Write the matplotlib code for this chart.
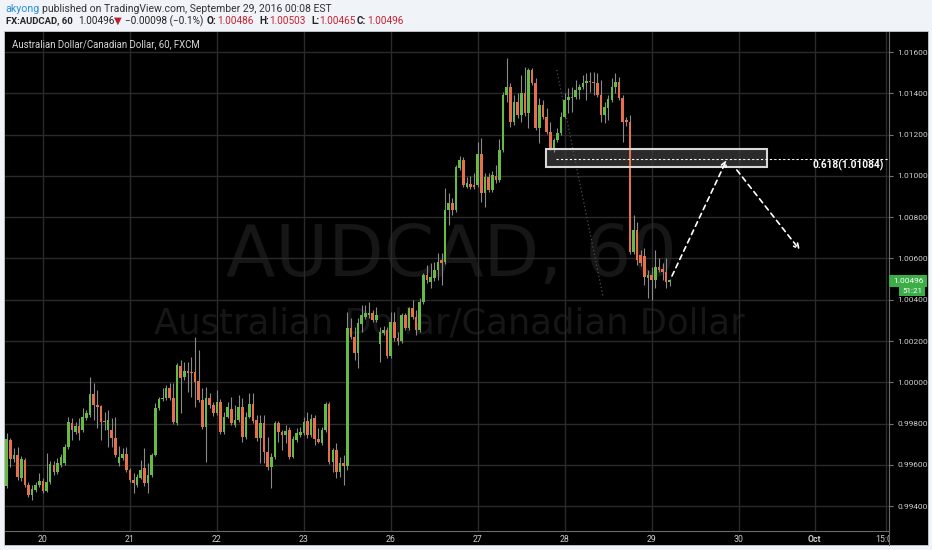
import numpy as np
import matplotlib
matplotlib.use("Agg")
import matplotlib.pyplot as plt
from matplotlib.patches import Rectangle

plt.rcParams['font.family'] = ['Roboto', 'DejaVu Sans']

# AUDCAD hourly candles, prices in units of 0.00001
opens = [
    99497, 99720, 99628, 99648, 99536, 99624, 99502, 99454, 99478, 99502,
    99522, 99473, 99517, 99600, 99565, 99600, 99609, 99686, 99802, 99759,
    99788, 99768, 99827, 99841, 99944, 99890, 99885, 99812, 99768, 99768,
    99730, 99609, 99633, 99653, 99575, 99527, 99502, 99536, 99585, 99512,
    99551, 99648, 99875, 99919, 99924, 99973, 99924, 99802, 100079, 100026,
    100055, 100050, 100050, 100007, 99914, 99783, 99924, 99890, 99851, 99904,
    99759, 99831, 99870, 99793, 99817, 99880, 99735, 99831, 99895, 99817,
    99730, 99802, 99662, 99590, 99638, 99802, 99759, 99744, 99768, 99638,
    99720, 99744, 99754, 99812, 99744, 99827, 99725, 99705, 99768, 99895,
    99614, 99672, 99565, 99609, 99595, 100263, 100220, 100142, 100283, 100317,
    100326, 100336, 100302, 100186, 100239, 100253, 100128, 100292, 100215, 100200,
    100326, 100263, 100360, 100317, 100253, 100389, 100521, 100487, 100506, 100545,
    100593, 100584, 100836, 100869, 100836, 101040, 101079, 100947, 100962, 100957,
    100957, 101108, 100918, 100996, 100933, 101001, 100981, 101127, 101393, 101432,
    101262, 101359, 101296, 101403, 101306, 101515, 101451, 101233, 101345, 101287,
    101214, 101127, 101175, 101209, 101287, 101369, 101379, 101384, 101418, 101432,
    101451, 101461, 101456, 101451, 101393, 101296, 101330, 101369, 101432, 101456,
    101379, 101272, 101262, 100632, 100739, 100618, 100613, 100506, 100521, 100496,
    100560, 100550, 100535, 100486]
highs = [
    99754, 99730, 99681, 99686, 99643, 99633, 99517, 99502, 99517, 99561,
    99536, 99657, 99619, 99619, 99633, 99653, 99701, 99831, 99827, 99807,
    99827, 99875, 99866, 100026, 99997, 99963, 99890, 99856, 99866, 99827,
    99831, 99691, 99681, 99686, 99585, 99561, 99556, 99624, 99681, 99609,
    99657, 99899, 99929, 99973, 99987, 99997, 99997, 100094, 100109, 100099,
    100099, 100123, 100220, 100157, 99973, 99978, 99949, 99904, 99963, 99919,
    99856, 99904, 99929, 99890, 99939, 99924, 99856, 99949, 99949, 99841,
    99841, 99841, 99735, 99657, 99812, 99812, 99768, 99793, 99783, 99740,
    99778, 99783, 99831, 99856, 99846, 99841, 99778, 99783, 99904, 99904,
    99681, 99705, 99638, 99648, 100341, 100312, 100268, 100312, 100375, 100375,
    100389, 100350, 100365, 100268, 100273, 100268, 100341, 100341, 100244, 100336,
    100336, 100365, 100399, 100350, 100409, 100530, 100569, 100579, 100584, 100627,
    100627, 100943, 100918, 100894, 101054, 101098, 101093, 100996, 101001, 101016,
    101165, 101185, 101016, 101016, 101025, 101054, 101180, 101408, 101573, 101451,
    101393, 101403, 101490, 101529, 101524, 101524, 101476, 101379, 101369, 101330,
    101262, 101185, 101233, 101311, 101403, 101427, 101432, 101466, 101446, 101490,
    101500, 101505, 101505, 101500, 101466, 101359, 101393, 101476, 101500, 101481,
    101393, 101287, 101296, 100812, 100777, 100642, 100651, 100545, 100560, 100642,
    100603, 100579, 100603, 100503]
lows = [
    99488, 99590, 99614, 99527, 99522, 99493, 99444, 99430, 99468, 99493,
    99464, 99468, 99507, 99551, 99556, 99590, 99600, 99677, 99720, 99749,
    99720, 99759, 99817, 99831, 99817, 99778, 99720, 99768, 99686, 99686,
    99638, 99595, 99624, 99565, 99517, 99464, 99493, 99531, 99497, 99464,
    99541, 99643, 99866, 99909, 99914, 99914, 99797, 99793, 99851, 100012,
    99953, 99929, 99880, 99904, 99773, 99614, 99875, 99836, 99841, 99749,
    99749, 99827, 99793, 99783, 99807, 99710, 99725, 99827, 99802, 99715,
    99609, 99609, 99575, 99488, 99628, 99710, 99672, 99705, 99628, 99633,
    99710, 99735, 99744, 99730, 99735, 99696, 99705, 99696, 99759, 99604,
    99565, 99536, 99541, 99502, 99575, 100210, 100109, 100070, 100244, 100307,
    100312, 100292, 100292, 100099, 100229, 100118, 100118, 100200, 100181, 100190,
    100253, 100253, 100307, 100229, 100244, 100380, 100482, 100458, 100492, 100496,
    100472, 100574, 100763, 100812, 100826, 101030, 100947, 100943, 100938, 100938,
    100947, 100874, 100850, 100923, 100923, 100967, 100972, 101117, 101359, 101238,
    101248, 101282, 101262, 101291, 101233, 101442, 101223, 101160, 101277, 101204,
    101127, 101117, 101165, 101199, 101282, 101306, 101311, 101374, 101374, 101422,
    101369, 101408, 101393, 101384, 101262, 101257, 101272, 101359, 101403, 101369,
    101165, 101243, 100623, 100623, 100569, 100564, 100472, 100409, 100399, 100458,
    100535, 100496, 100458, 100465]
closes = [
    99725, 99628, 99648, 99541, 99628, 99502, 99454, 99483, 99502, 99522,
    99473, 99517, 99604, 99565, 99609, 99638, 99686, 99807, 99768, 99788,
    99754, 99831, 99851, 99944, 99890, 99880, 99807, 99807, 99817, 99730,
    99648, 99638, 99653, 99575, 99527, 99512, 99541, 99575, 99512, 99551,
    99648, 99875, 99919, 99924, 99973, 99924, 99807, 100084, 100021, 100055,
    100045, 100045, 100002, 99914, 99783, 99924, 99890, 99851, 99904, 99759,
    99831, 99880, 99802, 99817, 99880, 99735, 99831, 99895, 99812, 99730,
    99802, 99662, 99590, 99638, 99802, 99759, 99744, 99764, 99638, 99725,
    99754, 99759, 99807, 99744, 99822, 99725, 99710, 99768, 99895, 99614,
    99672, 99565, 99609, 99595, 100263, 100220, 100142, 100287, 100326, 100336,
    100336, 100302, 100326, 100244, 100253, 100128, 100292, 100215, 100200, 100326,
    100263, 100360, 100317, 100253, 100389, 100521, 100496, 100511, 100545, 100584,
    100579, 100836, 100869, 100836, 101045, 101079, 100957, 100967, 100947, 100947,
    101108, 100918, 100996, 100933, 101006, 100981, 101127, 101393, 101432, 101262,
    101359, 101296, 101403, 101306, 101515, 101451, 101233, 101345, 101287, 101214,
    101137, 101175, 101209, 101287, 101369, 101384, 101384, 101418, 101432, 101451,
    101461, 101456, 101451, 101393, 101296, 101335, 101374, 101432, 101456, 101379,
    101262, 101262, 100632, 100739, 100593, 100579, 100511, 100521, 100496, 100560,
    100545, 100535, 100487, 100496]

day_pos = [10, 34, 58, 82, 106, 130, 154, 178, 202, 223, 242.6]
day_labels = ['20', '21', '22', '23', '26', '27', '28', '29', '30', 'Oct', '15:00']
price_ticks = [0.994, 0.996, 0.998, 1.000, 1.002, 1.004, 1.006, 1.008,
               1.010, 1.012, 1.014, 1.016]

# drawings on the chart, in (bar index, price)
zone_x = [148.9, 209.9]
zone_y = [1.01044, 1.01131]
fib_level = 1.01084
fib_start = 151.6
trend_x = [151.8, 164.6]
trend_y = [1.01514, 1.00413]
leg1 = [(183.6, 1.00515), (198.7, 1.01078)]
leg2 = [(201.5, 1.01029), (218.9, 1.00641)]

W, H = 932, 550
def fx(px):
    return px / W
def fy(py):
    return 1 - py / H

green = '#66bb44'
red = '#e4714c'
bg = '#f0f3f8'
grid_c = '#2a2a2a'
axis_txt = '#cfcfcf'

fig = plt.figure(figsize=(W / 100, H / 100), dpi=100, facecolor=bg)
# black chart panel, behind the axes
fig.patches.append(Rectangle((fx(4), fy(545)), fx(924), 514 / H, transform=fig.transFigure,
                             facecolor='black', edgecolor='#c8ccd2', lw=0.6, zorder=-10))

ax = fig.add_axes([fx(5), fy(531), fx(884), 499 / H], facecolor='black')

o = np.array(opens) / 1e5
h = np.array(highs) / 1e5
l = np.array(lows) / 1e5
c = np.array(closes) / 1e5
x = np.arange(len(o))
up = c >= o

# watermark
ax.text(0.505, 0.55, 'AUDCAD, 60', transform=ax.transAxes, fontsize=52, color='#161616',
        ha='center', va='center', family=['DejaVu Sans'], zorder=0)
ax.text(0.503, 0.415, 'Australian Dollar/Canadian Dollar', transform=ax.transAxes, fontsize=25.5,
        color='#161616', ha='center', va='center', family=['DejaVu Sans'], zorder=0)

ax.vlines(x, l, h, color='#8a8a8a', lw=0.8, zorder=2)
body_lo = np.minimum(o, c)
body_h = np.maximum(np.abs(c - o), 0.00002)
ax.bar(x[up], body_h[up], 0.72, bottom=body_lo[up], color=green, lw=0, zorder=3)
ax.bar(x[~up], body_h[~up], 0.72, bottom=body_lo[~up], color=red, lw=0, zorder=3)

# fib zone and level
ax.add_patch(Rectangle((zone_x[0], zone_y[0]), zone_x[1] - zone_x[0], zone_y[1] - zone_y[0],
                       facecolor='#3a3a3a', alpha=0.75, edgecolor='none', zorder=1))
ax.add_patch(Rectangle((zone_x[0], zone_y[0]), zone_x[1] - zone_x[0], zone_y[1] - zone_y[0],
                       facecolor='none', edgecolor='#d8d8d8', lw=1.5, zorder=4))
ax.plot([fib_start, 243.5], [fib_level, fib_level], color='white', lw=0.8,
        ls=(0, (2, 2)), zorder=5)
ax.text(222.3, fib_level - 0.00003, '0.618(1.01084)', color='white', fontsize=7.3,
        fontweight='bold', va='top', ha='left', zorder=5)
ax.plot(trend_x, trend_y, color='#4d4d4d', lw=0.9, ls=(0, (1, 2)), zorder=1)

for a, b in [leg1, leg2]:
    ax.annotate('', xy=b, xytext=a,
                arrowprops=dict(arrowstyle='->', color='white', lw=1.2, ls=(0, (3, 2.5)),
                                shrinkA=0, shrinkB=0, mutation_scale=9), zorder=6)

ax.set_xlim(-0.47, 243.5)
ax.set_ylim(0.99279, 1.01698)

ax.set_yticks(price_ticks)
ax.set_yticklabels(['%.5f' % p for p in price_ticks])
ax.yaxis.tick_right()
ax.set_xticks(day_pos)
ax.set_xticklabels(day_labels)
ax.tick_params(axis='y', colors='#777777', labelcolor=axis_txt, labelsize=6, length=3, pad=3)
ax.tick_params(axis='x', colors='#777777', labelcolor=axis_txt, labelsize=6.3, length=0, pad=3)
for lab in ax.get_xticklabels():
    if lab.get_text() == 'Oct':
        lab.set_fontweight('bold')
ax.grid(True, color=grid_c, lw=1)
ax.set_axisbelow(True)
for s in ['top', 'left']:
    ax.spines[s].set_visible(False)
ax.spines['right'].set_color('#6a6a6a')
ax.spines['bottom'].set_color('#6a6a6a')

# cover the clipped part of the last time label, as in the original
fig.patches.append(Rectangle((fx(889.5), fy(544)), fx(38), 13 / H, transform=fig.transFigure,
                             facecolor='black', edgecolor='none', zorder=5))
fig.lines.append(plt.Line2D([fx(889), fx(889)], [fy(545), fy(531)], transform=fig.transFigure,
                            color='#6a6a6a', lw=0.8, zorder=6))

# last price marker
fig.patches.append(Rectangle((fx(889), fy(287)), fx(38), 12 / H, transform=fig.transFigure,
                             facecolor='#3cae48', edgecolor='none', zorder=6))
fig.text(fx(908), fy(281), '1.00496', color='white', fontsize=6, ha='center', va='center', zorder=7)
fig.patches.append(Rectangle((fx(899), fy(296)), fx(26), 10 / H, transform=fig.transFigure,
                             facecolor='#3cae48', edgecolor='none', zorder=6))
fig.text(fx(912), fy(291), '51:21', color='white', fontsize=5.8, ha='center', va='center', zorder=7)

# header
fig.text(fx(12), fy(44), 'Australian Dollar/Canadian Dollar, 60, FXCM', color='#d6d6d6',
         fontsize=6.9, va='center')
fig.text(fx(5), fy(9), 'akyong', color='#2b8fd6', fontsize=7.7, va='center')
fig.text(fx(42), fy(9), 'published on TradingView.com, September 29, 2016 00:08 EST',
         color='#333333', fontsize=7.5, va='center')
hy = fy(21)
fig.text(fx(6), hy, 'FX:AUDCAD, 60', color='#222222', fontsize=6.8, fontweight='bold', va='center')
fig.text(fx(78), hy, '1.00496', color='#222222', fontsize=7.2, va='center')
fig.text(fx(114), hy, '▼', color='#b8232f', fontsize=7.2, va='center')
fig.text(fx(125), hy, '\u22120.00098 (\u22120.1%)', color='#222222', fontsize=7.2, va='center')
for lx, key, vx, val in [(207, 'O:', 217, '1.00486'), (259, 'H:', 269, '1.00503'),
                         (311, 'L:', 319, '1.00465'), (357, 'C:', 367, '1.00496')]:
    fig.text(fx(lx), hy, key, color='#222222', fontsize=7.2, fontweight='bold', va='center')
    fig.text(fx(vx), hy, val, color='#c8202e', fontsize=7.2, va='center')

fig.savefig('out.png', dpi=100, facecolor=bg)
